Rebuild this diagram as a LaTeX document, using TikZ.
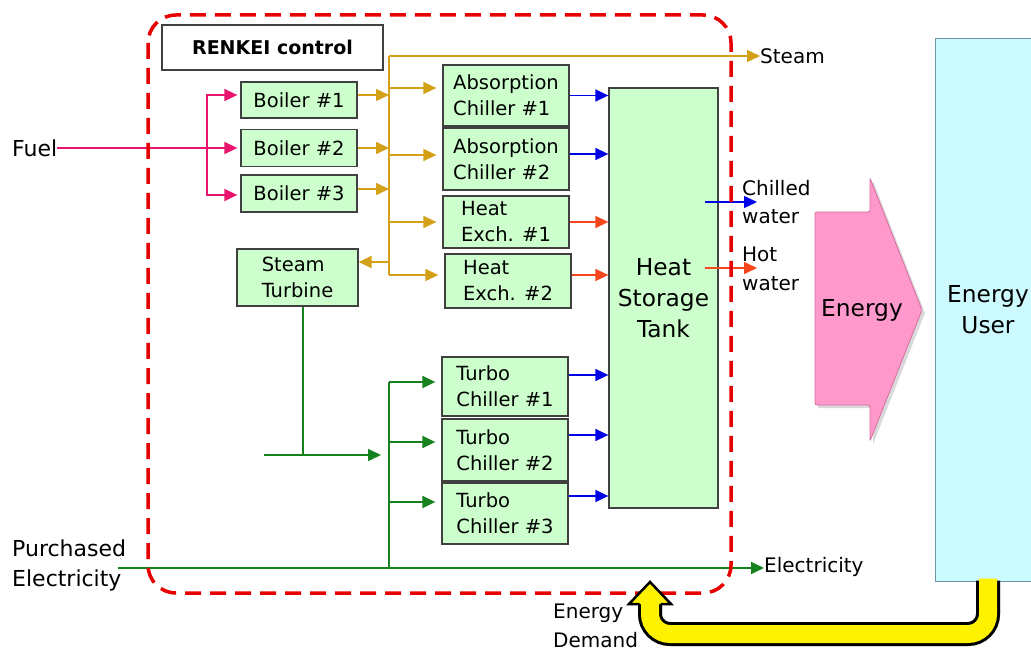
\documentclass[tikz,border=0pt]{standalone}
\usepackage{fontspec}
\setmainfont{DejaVu Sans}
\usetikzlibrary{arrows.meta,calc}
\definecolor{boxgreen}{RGB}{204,255,204}
\definecolor{usercyan}{RGB}{204,250,255}
\definecolor{userborder}{RGB}{110,150,170}
\definecolor{ctrlred}{RGB}{232,0,0}
\definecolor{steamgold}{RGB}{212,160,23}
\definecolor{fuelpink}{RGB}{232,20,110}
\definecolor{elecgreen}{RGB}{20,130,30}
\definecolor{coldblue}{RGB}{0,0,230}
\definecolor{hotred}{RGB}{245,70,30}
\definecolor{energypink}{RGB}{255,153,204}
\definecolor{energypinkdark}{RGB}{215,110,160}
\newcommand{\boxfont}{\fontsize{19.5}{26}\selectfont}
\newcommand{\bigfont}{\fontsize{23.3}{31}\selectfont}
\newcommand{\sidefont}{\fontsize{22}{30}\selectfont}
\newcommand{\outfont}{\fontsize{20}{28.5}\selectfont}
\begin{document}
\begin{tikzpicture}[x=1pt,y=-1pt,
  eqbox/.style={draw=black!75, line width=1.3pt, fill=boxgreen, align=left, font=\boxfont, inner sep=2pt, text=black},
  flow/.style={line width=1.5pt, -{Triangle[length=13pt,width=12pt]}},
  plain/.style={line width=1.5pt},
  gap/.style={shorten >=#1},
  lbl/.style={inner sep=0pt, align=left, text=black}
]
\useasboundingbox (0,0) rectangle (1031,652);
\fill[white] (0,0) rectangle (1031,652);

% ---- nodes
\node[draw=black!75, line width=1.2pt, fill=white, minimum width=221pt, minimum height=45pt,
      font=\bfseries\fontsize{19}{23}\selectfont, text=black] (renkei) at (272.5,47.5) {RENKEI control};

\node[eqbox, minimum width=116pt, minimum height=36pt] (b1) at (299,100) {Boiler \#1};
\node[eqbox, minimum width=116pt, minimum height=37pt] (b2) at (299,148) {Boiler \#2};
\node[eqbox, minimum width=116pt, minimum height=37pt] (b3) at (299,193.5) {Boiler \#3};

\node[eqbox, minimum width=126pt, minimum height=61pt] (ac1) at (506,95.5) {Absorption\\Chiller \#1};
\node[eqbox, minimum width=126pt, minimum height=62pt] (ac2) at (506,159) {Absorption\\Chiller \#2};
\node[eqbox, minimum width=126pt, minimum height=52pt] (he1) at (506,222) {Heat\\Exch. \#1};
\node[eqbox, minimum width=126pt, minimum height=54pt] (he2) at (508,281) {Heat\\Exch. \#2};
\node[eqbox, minimum width=121pt, minimum height=57pt] (st) at (297.5,277.5) {Steam\\Turbine};

\node[eqbox, minimum width=126pt, minimum height=59pt] (tc1) at (505,386.5) {Turbo\\Chiller \#1};
\node[eqbox, minimum width=126pt, minimum height=62pt] (tc2) at (505,450) {Turbo\\Chiller \#2};
\node[eqbox, minimum width=126pt, minimum height=61pt] (tc3) at (505,513.5) {Turbo\\Chiller \#3};

\node[eqbox, minimum width=109pt, minimum height=420pt, align=center, font=\bigfont] (tank) at (663.5,298) {Heat\\Storage\\Tank};

% ---- labels
\node[lbl, font=\sidefont, anchor=west] (fuel) at (12,148) {Fuel};
\node[lbl, font=\sidefont, anchor=west] (pelab) at (12,565) {Purchased\\Electricity};
\node[lbl, font=\outfont, anchor=west] (steam) at (760,56) {Steam};
\node[lbl, font=\outfont, anchor=west] (chilled) at (742,202) {Chilled\\water};
\node[lbl, font=\outfont, anchor=west] (hot) at (742,269) {Hot\\water};
\node[lbl, font=\outfont, anchor=west] (elec) at (764,567) {Electricity};
\node[lbl, font=\outfont, anchor=west] (demand) at (553,626) {Energy\\Demand};

% ---- fuel
\coordinate (fj) at (207,148);
\draw[flow, gap=3pt, fuelpink] (fuel.east) -- (b2.west);
\draw[flow, gap=3pt, fuelpink] (fj) |- ([yshift=5pt]b1.west);
\draw[flow, gap=3pt, fuelpink] (fj) |- ([yshift=-1.5pt]b3.west);

% ---- steam bus
\coordinate (gbus) at (389,56);
\coordinate (ac1in) at ([yshift=7.5pt]ac1.west);
\coordinate (ac2in) at ([yshift=4pt]ac2.west);
\coordinate (he1in) at (he1.west);
\coordinate (he2in) at ([yshift=6pt]he2.west);
\coordinate (stin) at ([yshift=15.5pt]st.east);
\draw[plain, steamgold] (gbus) -- (gbus |- he2in);
\draw[flow, steamgold] (gbus) -- (steam.west);
\draw[flow, steamgold] ([yshift=5pt]b1.east) -- ([yshift=5pt]b1.east -| gbus);
\draw[flow, steamgold] (b2.east) -- (b2.east -| gbus);
\draw[flow, steamgold] ([yshift=4.5pt]b3.east) -- ([yshift=4.5pt]b3.east -| gbus);
\foreach \t in {ac1in,ac2in,he1in,he2in}
  \draw[flow, gap=6pt, steamgold] (\t -| gbus) -- (\t);
\draw[flow, steamgold] (stin -| gbus) -- (stin);

% ---- into tank
\draw[flow, coldblue] (ac1.east) -- (ac1.east -| tank.west);
\draw[flow, coldblue] ([yshift=5pt]ac2.east) -- ([yshift=5pt]ac2.east -| tank.west);
\draw[flow, hotred] (he1.east) -- (he1.east -| tank.west);
\draw[flow, hotred] ([yshift=6pt]he2.east) -- ([yshift=6pt]he2.east -| tank.west);
\draw[flow, coldblue] ([yshift=11.5pt]tc1.east) -- ([yshift=11.5pt]tc1.east -| tank.west);
\draw[flow, coldblue] ([yshift=15pt]tc2.east) -- ([yshift=15pt]tc2.east -| tank.west);
\draw[flow, coldblue] ([yshift=17.5pt]tc3.east) -- ([yshift=17.5pt]tc3.east -| tank.west);

% ---- electricity
\coordinate (ebus) at (389,568);
\coordinate (pe) at (118,568);
\coordinate (tc1in) at ([yshift=4.5pt]tc1.west);
\coordinate (tc2in) at ([yshift=8pt]tc2.west);
\coordinate (tc3in) at ([yshift=11.5pt]tc3.west);
\draw[flow, elecgreen] (pe) -- (pe -| elec.west);
\draw[plain, elecgreen] (ebus) -- (ebus |- tc1in);
\foreach \t in {tc1in,tc2in,tc3in}
  \draw[flow, gap=6pt, elecgreen] (\t -| ebus) -- (\t);
\coordinate (gl) at (264,455);
\coordinate (gr) at (381,455);
\coordinate (stout) at ([xshift=5.5pt]st.south);
\draw[plain, elecgreen] (stout) -- (stout |- gl);
\draw[flow, elecgreen] (gl) -- (gr);

% ---- tank outputs
\coordinate (cws) at (705,202);
\coordinate (cwe) at (757,202);
\coordinate (hws) at (705,268);
\coordinate (hwe) at (757,268);
\draw[flow, coldblue] (cws) -- (cwe);
\draw[flow, hotred] (hws) -- (hwe);

% ---- control frame
\draw[ctrlred, line width=3.5pt, dash pattern=on 16pt off 9pt, rounded corners=28pt] (148,15) rectangle (731,593);

% ---- energy arrow
\fill[black!15] (818,215) -- (873,215) -- (873,181) -- (925,313) -- (873,444) -- (873,408) -- (818,408) -- cycle;
\draw[fill=energypink, draw=energypinkdark, line width=0.8pt, rounded corners=2pt]
  (815,212) -- (870,212) -- (870,178) -- (922,310) -- (870,441) -- (870,405) -- (815,405) -- cycle;
\node[font=\bigfont, text=black] (energy) at (862,310) {Energy};

% ---- energy user
\node[draw=userborder, line width=1pt, fill=usercyan, minimum width=106pt, minimum height=542pt,
      align=center, font=\bigfont, text=black] (user) at (988,310) {Energy\\User};

% ---- demand arrow
\coordinate (ybot) at (650,634);
\coordinate (dem) at (650,604);
\coordinate (demtip) at (650,582);
\draw[line width=24pt, black!30, rounded corners=20pt, shift={(3,3)}]
  ([yshift=-2pt]user.south) -- (user.south |- ybot) -- (ybot) -- (dem);
\draw[line width=24pt, black, rounded corners=20pt]
  ([yshift=1pt]user.south) -- (user.south |- ybot) -- (ybot) -- (dem);
\draw[line width=18pt, yellow, rounded corners=20pt]
  ([yshift=3pt]user.south) -- (user.south |- ybot) -- (ybot) -- (dem);
\fill[yellow] ($(dem)+(-21,0)$) -- (demtip) -- ($(dem)+(21,0)$) -- cycle;
\draw[black, line width=2.5pt, line join=miter]
  ($(dem)+(-10.5,0)$) -- ($(dem)+(-21,0)$) -- (demtip) -- ($(dem)+(21,0)$) -- ($(dem)+(10.5,0)$);
\end{tikzpicture}
\end{document}
